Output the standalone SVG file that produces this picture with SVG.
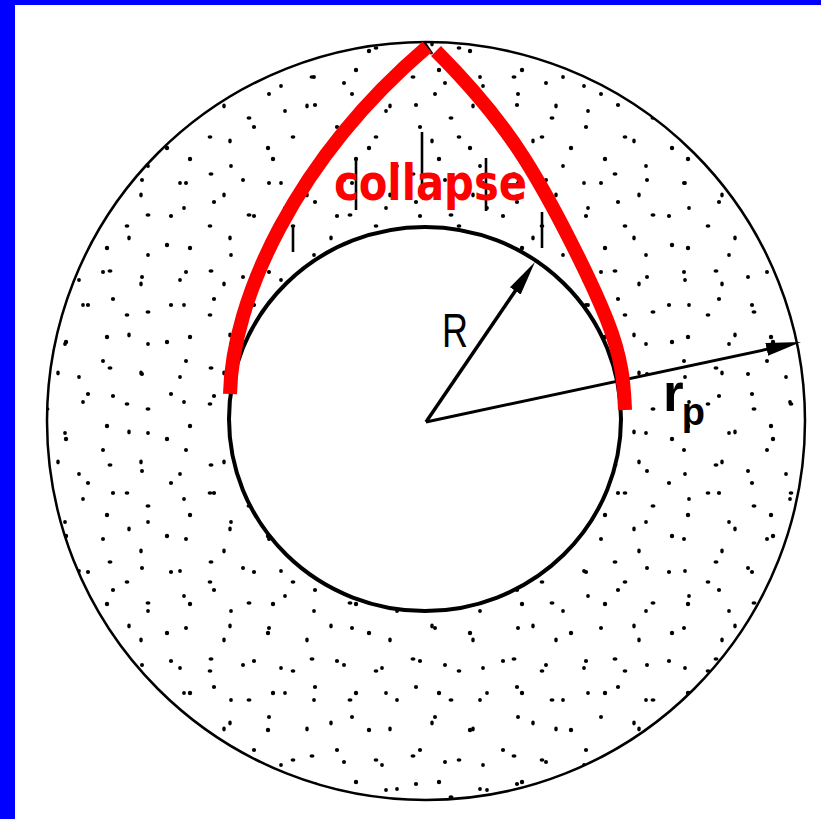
<svg xmlns="http://www.w3.org/2000/svg" width="821" height="819" viewBox="0 0 821 819">
<style>
.blk{fill:none;stroke:#000;}
.red{fill:none;stroke:#ff0000;stroke-width:14;stroke-linecap:butt;}
.tick{stroke:#000;stroke-width:2.6;}
.dot{fill:#000;}
.lbl{font-family:"Liberation Sans",Arial,sans-serif;fill:#000;}
</style>
<defs>
<marker id="ah" markerUnits="userSpaceOnUse" markerWidth="36" markerHeight="14" refX="15" refY="7" orient="auto">
<path d="M0,0.5 L35,7 L0,13.5 Z" fill="#000"/>
</marker>
<pattern id="p1" patternUnits="userSpaceOnUse" x="0" y="0" width="101" height="97">
<circle class="dot" cx="12" cy="8" r="2.1"/>
<ellipse class="dot" cx="47" cy="21" rx="2.5" ry="1.8"/>
<circle class="dot" cx="83" cy="14" r="1.9"/>
<ellipse class="dot" cx="28" cy="44" rx="1.8" ry="2.4"/>
<circle class="dot" cx="66" cy="51" r="2.2"/>
<ellipse class="dot" cx="9" cy="77" rx="2.5" ry="1.8"/>
<circle class="dot" cx="41" cy="83" r="2"/>
<circle class="dot" cx="79" cy="86" r="1.9"/>
</pattern>
<pattern id="p2" patternUnits="userSpaceOnUse" x="0" y="0" width="83" height="89">
<circle class="dot" cx="20" cy="5" r="2"/>
<ellipse class="dot" cx="58" cy="17" rx="1.8" ry="2.4"/>
<circle class="dot" cx="5" cy="38" r="2.1"/>
<ellipse class="dot" cx="44" cy="48" rx="2.4" ry="1.8"/>
<circle class="dot" cx="24" cy="70" r="2.2"/>
<circle class="dot" cx="65" cy="77" r="1.9"/>
</pattern>
</defs>
<rect x="0" y="0" width="821" height="819" fill="#fff"/>
<rect x="0" y="0" width="15" height="819" fill="#0000ff"/>
<rect x="0" y="0" width="821" height="5" fill="#0000ff"/>

<g id="annulus">
<path d="M47,421 A379,379 0 1 0 805,421 A379,379 0 1 0 47,421 Z M229,419 A196,192 0 1 0 621,419 A196,192 0 1 0 229,419 Z" fill="url(#p1)" fill-rule="evenodd"/>
<path d="M47,421 A379,379 0 1 0 805,421 A379,379 0 1 0 47,421 Z M229,419 A196,192 0 1 0 621,419 A196,192 0 1 0 229,419 Z" fill="url(#p2)" fill-rule="evenodd"/>
</g>

<g id="outer-circle">
<circle class="blk" cx="426" cy="421" r="379" stroke-width="2.5"/>
</g>
<g id="inner-circle">
<ellipse class="blk" cx="425" cy="419" rx="196" ry="192" stroke-width="4"/>
</g>

<g id="ticks">
<line class="tick" x1="422" y1="132" x2="422" y2="190"/>
<line class="tick" x1="356" y1="161" x2="356" y2="210"/>
<line class="tick" x1="486" y1="158" x2="486" y2="211"/>
<line class="tick" x1="293" y1="227" x2="293" y2="252"/>
<line class="tick" x1="542" y1="212" x2="542" y2="248"/>
<line x1="424" y1="42" x2="432" y2="54" stroke="#000" stroke-width="3"/>
</g>

<g id="connectors">
<line x1="426" y1="422" x2="523.7" y2="278.5" stroke="#000" stroke-width="3.5" marker-end="url(#ah)"/>
<line x1="426" y1="422" x2="781.4" y2="346.2" stroke="#000" stroke-width="3" marker-end="url(#ah)"/>
</g>

<g id="collapse">
<path class="red" d="M230,394 C232,300 295,160 427,47"/>
<path class="red" d="M436,51 C460,75 495.5,113.2 524,158 C552.5,202.8 590.2,278 607,320 C623.8,362 624,390 625,410"/>
<text x="334" y="200" font-family="'DejaVu Sans',Verdana,sans-serif" font-weight="bold" font-size="50" fill="#ff0000" textLength="193" lengthAdjust="spacingAndGlyphs">collapse</text>
</g>

<g id="label-R">
<text class="lbl" x="442" y="347" font-size="48" textLength="26" lengthAdjust="spacingAndGlyphs">R</text>
</g>
<g id="label-rp">
<text class="lbl" x="663" y="411" font-weight="bold"><tspan font-size="53">r</tspan><tspan font-size="38" dx="-2" dy="14">p</tspan></text>
</g>
</svg>
